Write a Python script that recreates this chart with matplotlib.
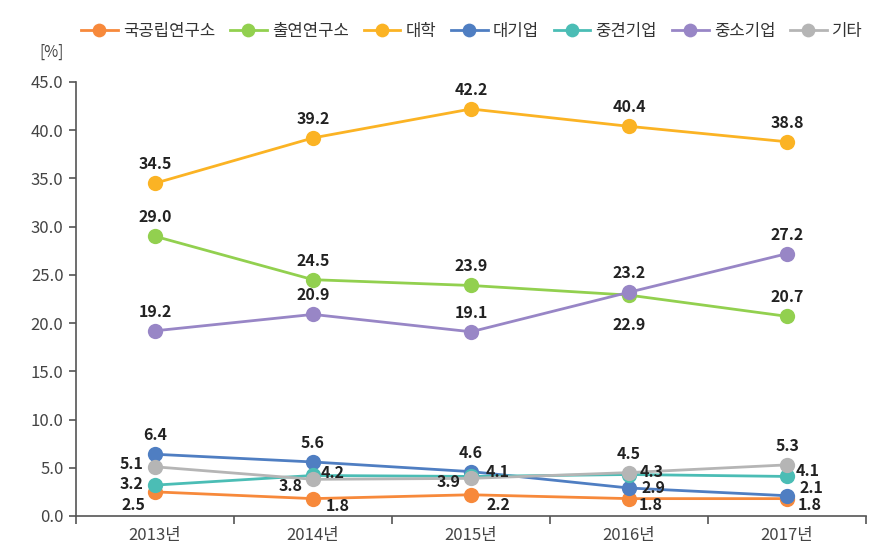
import matplotlib.pyplot as plt
import matplotlib as mpl
import numpy as np

mpl.rcParams['font.family'] = ['Noto Sans CJK KR', 'DejaVu Sans']

years = ['2013년', '2014년', '2015년', '2016년', '2017년']
names = ['국공립연구소', '출연연구소', '대학', '대기업', '중견기업', '중소기업', '기타']
gov_inst = [2.5, 1.8, 2.2, 1.8, 1.8]
funded_inst = [29.0, 24.5, 23.9, 22.9, 20.7]
university = [34.5, 39.2, 42.2, 40.4, 38.8]
large_corp = [6.4, 5.6, 4.6, 2.9, 2.1]
mid_corp = [3.2, 4.2, 4.1, 4.3, 4.1]
small_corp = [19.2, 20.9, 19.1, 23.2, 27.2]
others = [5.1, 3.8, 3.9, 4.5, 5.3]

series = [gov_inst, funded_inst, university, large_corp, mid_corp, small_corp, others]
colors = ['#F7893B', '#92D04F', '#FBB324', '#4F7EC2', '#4BBDB5', '#9886C6', '#B5B5B5']

# label offsets in pixels (dx, dy), dy positive = up
A = (0, 19)
offsets = [
    [(-22, -13), (25, -7), (27, -10), (22, -6), (23, -6)],
    [A, A, A, (0, -30), A],
    [A, A, A, A, A],
    [A, A, A, (24, 0), (24, 8)],
    [(-23, 1), (20, 2), (27, 4), (23, 3), (21, 5)],
    [A, A, A, A, A],
    [(-23, 3), (-22, -7), (-22, -4), A, A],
]

fig = plt.figure(figsize=(8.82, 5.55), dpi=100)
ax = fig.add_axes([0.0862, 0.0703, 0.8957, 0.782])

x = np.arange(len(years))
for name, vals, c in zip(names, series, colors):
    ax.plot(x, vals, color=c, lw=2, marker='o', ms=11, label=name,
            markeredgewidth=0)
for vals, offs in zip(series, offsets):
    for xi, v, (dx, dy) in zip(x, vals, offs):
        ax.annotate('%.1f' % v, (xi, v), xytext=(dx, dy),
                    textcoords='offset pixels', ha='center', va='center',
                    fontsize=11.5, fontweight='bold', color='#222222')

ax.set_xlim(-0.5, 4.5)
ax.set_ylim(0, 45)
ax.set_yticks(np.arange(0, 46, 5))
ax.set_yticklabels(['%.1f' % t for t in np.arange(0, 46, 5)])
ax.set_xticks(x)
ax.set_xticklabels(years)
ax.set_xticks(np.arange(-0.5, 4.6, 1), minor=True)
ax.tick_params(axis='x', which='major', length=0, pad=8)
ax.tick_params(axis='x', which='minor', length=6, width=1.2, color='#555555')
ax.tick_params(axis='y', length=5, width=1.2, color='#555555', pad=4)
ax.tick_params(labelsize=12, labelcolor='#444444')
for s in ['top', 'right']:
    ax.spines[s].set_visible(False)
for s in ['left', 'bottom']:
    ax.spines[s].set_color('#555555')
    ax.spines[s].set_linewidth(1.2)

fig.text(0.059, 0.905, '[%]', fontsize=11, color='#444444', ha='center', va='center')
fig.legend(loc='center', bbox_to_anchor=(0.535, 0.943), ncol=7, frameon=False,
           fontsize=12, handlelength=2.2, columnspacing=0.9, handletextpad=0.3,
           markerscale=0.9, labelcolor='#333333')

plt.savefig('out.png', dpi=100)
